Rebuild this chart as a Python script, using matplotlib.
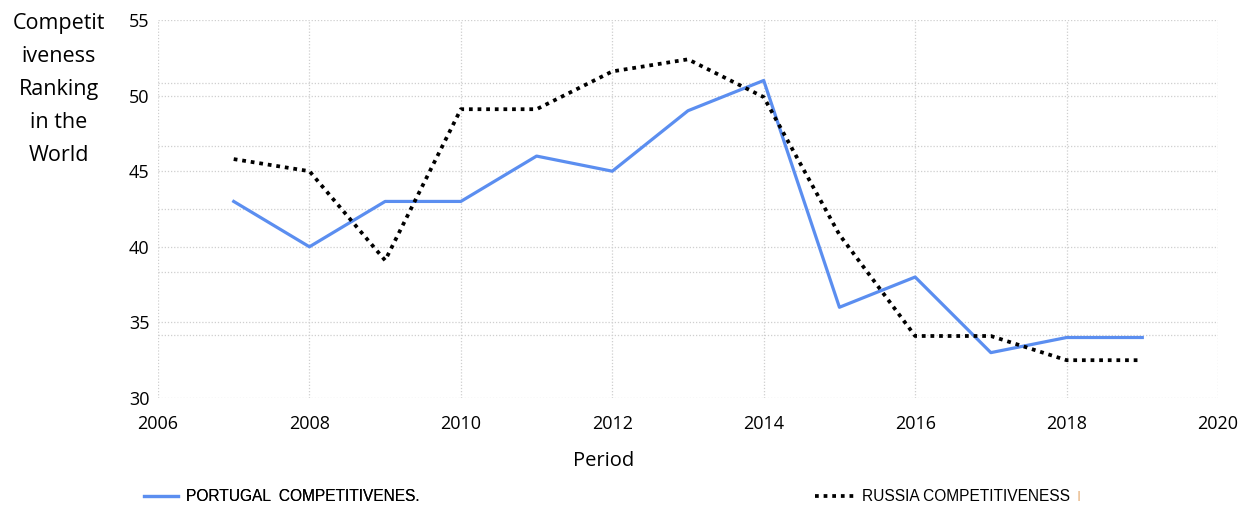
import matplotlib
matplotlib.use('Agg')
import matplotlib.pyplot as plt
from matplotlib.lines import Line2D
import numpy as np

years = [2007, 2008, 2009, 2010, 2011, 2012, 2013, 2014, 2015, 2016, 2017, 2018, 2019]
portugal = [43, 40, 43, 43, 46, 45, 49, 51, 36, 38, 33, 34, 34]
russia = [45.8, 45, 39.1, 49.1, 49.1, 51.6, 52.4, 49.9, 40.8, 34.1, 34.1, 32.5, 32.5]

x_ticks = [2006, 2008, 2010, 2012, 2014, 2016, 2018, 2020]
y_ticks = [30, 35, 40, 45, 50, 55]

plt.rcParams.update({
    'font.family': ['Open Sans', 'DejaVu Sans'],
    'font.size': 12,
})

fig = plt.figure(figsize=(12.5, 5.09), dpi=100)
ax = fig.add_axes([0.1264, 0.2181, 0.848, 0.7426])

blue = '#5b8ef0'
dots = (0, (1, 1.3))
ax.plot(years, portugal, color=blue, linewidth=2.3)
ax.plot(years, russia, color='black', linewidth=2.7, linestyle=dots)

ax.set_xlim(2006, 2020)
ax.set_ylim(30, 55)
ax.set_xticks(x_ticks)
ax.set_yticks(y_ticks)
# extra horizontal grid, 6 equal steps over the range
ax.set_yticks(np.linspace(30, 55, 7), minor=True)

grid_kw = dict(color='#cfcfcf', linestyle=(0, (1, 1.5)), linewidth=0.9)
ax.grid(True, which='major', **grid_kw)
ax.grid(True, which='minor', axis='y', **grid_kw)
ax.set_axisbelow(True)

for s in ax.spines.values():
    s.set_visible(False)
ax.tick_params(axis='both', which='both', length=0)
ax.tick_params(axis='y', pad=6, labelsize=13)
ax.tick_params(axis='x', pad=12, labelsize=13)

fig.text(0.483, 0.094, 'Period', ha='center', va='center', fontsize=14.5)

fig.text(0.047, 0.975, 'Competit\niveness\nRanking\nin the\nWorld', ha='center', va='top',
         fontsize=15.5, linespacing=1.75)

leg_font = {'family': 'Liberation Sans', 'size': 11.2}
leg1 = fig.legend([Line2D([], [], color=blue, linewidth=2.3)], ['PORTUGAL  COMPETITIVENES.'],
                  loc='center left', bbox_to_anchor=(0.104, 0.024), frameon=False,
                  prop=leg_font, handlelength=2.2, handletextpad=0.5)
fig.legend([Line2D([], [], color='black', linewidth=2.7, linestyle=dots)], ['RUSSIA COMPETITIVENESS'],
           loc='center left', bbox_to_anchor=(0.641, 0.024), frameon=False,
           prop=leg_font, handlelength=2.6, handletextpad=0.4)
fig.add_artist(leg1)
fig.text(0.861, 0.024, 'I', ha='left', va='center', fontsize=11, color='#e8b888',
         family='Liberation Sans')

plt.savefig('out.png', dpi=100, facecolor='white')
